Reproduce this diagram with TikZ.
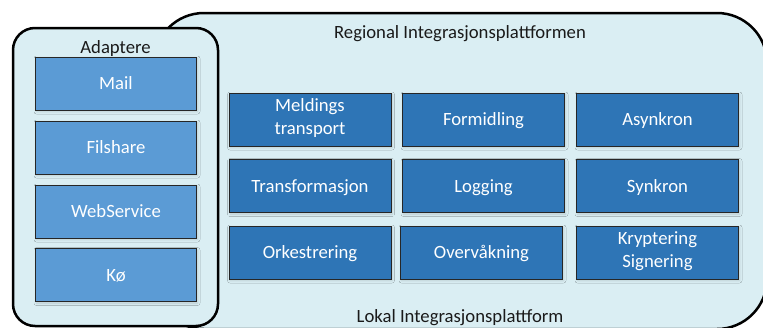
\documentclass[tikz,border=0pt]{standalone}
\usepackage{fontspec}
\setmainfont{Carlito}
\usetikzlibrary{shadows.blur}
\definecolor{bgblue}{HTML}{DAEEF3}
\definecolor{lightbox}{HTML}{5B9BD5}
\definecolor{darkbox}{HTML}{2E75B6}
\definecolor{titletext}{HTML}{1A1A1A}
\newcommand\boxstrut{\vrule width 0pt height 18.1pt depth 5.5pt\relax}
\begin{document}
\begin{tikzpicture}[x=1pt,y=-1pt,
  every node/.style={font=\fontsize{18.7}{22.7}\selectfont},
  container/.style={draw=black, line width=2.5pt, fill=bgblue},
  boxbase/.style={draw=black!85, line width=0.9pt, text=white, inner sep=0pt, align=center,
    minimum height=53pt,
    execute at begin node=\boxstrut, execute at end node=\boxstrut,
    blur shadow={shadow xshift=1pt, shadow yshift=-1.5pt, shadow blur radius=2.5pt, shadow opacity=15}},
  adapterbox/.style={boxbase, fill=lightbox, minimum width=161pt},
  platformbox/.style={boxbase, fill=darkbox, minimum width=162pt},
  titlelabel/.style={anchor=base, text=titletext, inner sep=0pt}
]
\useasboundingbox (0,0) rectangle (763,327);
% outer regional platform
\draw[container, rounded corners=50pt] (154,13) rectangle (767,329);
% adapter container
\draw[container, rounded corners=22pt] (13,28) rectangle (218,326);

\node[titlelabel] (regional) at (460,38) {Regional Integrasjonsplattformen};
\node[titlelabel] (lokal) at (460,322) {Lokal Integrasjonsplattform};
\node[titlelabel] (adaptere) at (115.5,53) {Adaptere};

% adapters
\node[adapterbox] (mail) at (116,83.5) {Mail};
\node[adapterbox] (filshare) at (116,147.5) {Filshare};
\node[adapterbox] (webservice) at (116,211.5) {WebService};
\node[adapterbox] (ko) at (116,275) {Kø};

% platform services
\node[platformbox] (meldings) at (310,119.5) {Meldings\\transport};
\node[platformbox] (formidling) at (483.5,119.5) {Formidling};
\node[platformbox] (asynkron) at (657.5,119.5) {Asynkron};
\node[platformbox] (transformasjon) at (310,186) {Transformasjon};
\node[platformbox] (logging) at (483.5,186) {Logging};
\node[platformbox] (synkron) at (657.5,186) {Synkron};
\node[platformbox] (orkestrering) at (310,252.5) {Orkestrering};
\node[platformbox] (overvakning) at (481.5,252.5) {Overvåkning};
\node[platformbox] (kryptering) at (657.5,252.5) {Kryptering\\Signering};
\end{tikzpicture}
\end{document}
